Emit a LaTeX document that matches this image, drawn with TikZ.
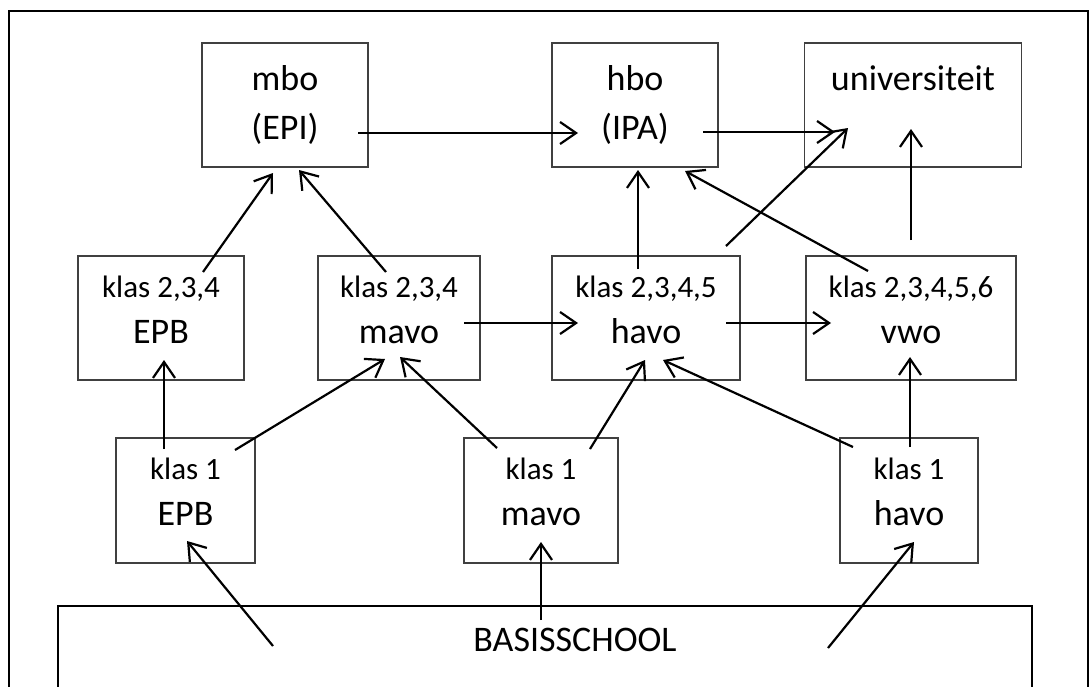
\documentclass[tikz,border=0pt]{standalone}
\usepackage{fontspec}
\setmainfont{Carlito}
\usetikzlibrary{arrows.meta,calc}
\newcommand{\klas}[1]{{\fontsize{31}{46}\selectfont klas #1}}
\newcommand{\klasstrut}{\rule[-17pt]{0pt}{17pt}}

\begin{document}
\begin{tikzpicture}[x=1pt, y=-1pt, >={Straight Barb[length=16pt,width=22pt]},
    font=\fontsize{36}{46}\selectfont,
    blok/.style={draw=black!75, line width=1.2pt, inner sep=0pt, align=center},
    top/.style={blok, minimum height=124pt},
    rij/.style={blok, minimum height=124pt},
    pijl/.style={->, line width=2.2pt}]
  \useasboundingbox (0,0) rectangle (1092,686);
  \clip (0,0) rectangle (1092,686);
  % kader
  \draw[line width=2.4pt] (9,700) -- (9,11) -- (1088,11) -- (1088,700);
  % vervolgopleidingen
  \node[top, minimum width=166pt] (mbo) at (285,105) {mbo\\[3pt](EPI)};
  \node[top, minimum width=166pt] (hbo) at (635,105) {hbo\\[3pt](IPA)};
  \node[top, minimum width=217pt] (uni) at (913,105) {universiteit\\[3pt]\phantom{(EPI)}};
  % klas 2 en hoger
  \node[rij, minimum width=166pt] (epb2) at (161,318) {\klas{2,3,4}\\EPB\klasstrut};
  \node[rij, minimum width=162pt] (mavo2) at (399,318) {\klas{2,3,4}\\mavo\klasstrut};
  \node[rij, minimum width=188pt] (havo2) at (646,318) {\klas{2,3,4,5}\\havo\klasstrut};
  \node[rij, minimum width=210pt] (vwo2) at (911,318) {\klas{2,3,4,5,6}\\vwo\klasstrut};
  % klas 1
  \node[blok, minimum width=139pt, minimum height=125pt] (epb1) at (185.5,500.5) {\klas{1}\\EPB\klasstrut};
  \node[blok, minimum width=154pt, minimum height=125pt] (mavo1) at (541,500.5) {\klas{1}\\mavo\klasstrut};
  \node[blok, minimum width=138pt, minimum height=125pt] (havo1) at (909,500.5) {\klas{1}\\havo\klasstrut};
  % basisschool
  \node[draw, line width=1.4pt, minimum width=974pt, minimum height=114pt] (basis) at (545,663) {};
  \node (basistekst) at (575,640) {BASISSCHOOL};

  % pijlen bovenste rij
  \draw[pijl] ($(mbo)+(73,28)$) -- ($(hbo)+(-57,28)$);
  \draw[pijl] ($(hbo)+(68,27)$) -- ($(uni)+(-78,27)$);
  \draw[pijl] ($(epb2)+(42,-46)$) -- ($(mbo)+(-12,68)$);
  \draw[pijl] ($(mavo2)+(-13,-46)$) -- ($(mbo)+(14,65)$);
  \draw[pijl] ($(havo2)+(-8,-49)$) -- ($(hbo)+(3,65)$);
  \draw[pijl] ($(havo2)+(80,-72)$) -- ($(uni)+(-65,23)$);
  \draw[pijl] ($(vwo2)+(-43,-47)$) -- ($(hbo)+(50,66)$);
  \draw[pijl] ($(vwo2)+(0,-78)$) -- ($(uni)+(-2,24)$);
  % doorstromen
  \draw[pijl] ($(mavo2)+(65,5)$) -- ($(havo2)+(-68,5)$);
  \draw[pijl] ($(havo2)+(80,5)$) -- ($(vwo2)+(-80,5)$);
  % vanuit klas 1
  \draw[pijl] ($(epb1)+(-21.5,-51.5)$) -- ($(epb2)+(3,42)$);
  \draw[pijl] ($(epb1)+(49.5,-50.5)$) -- ($(mavo2)+(-14,41)$);
  \draw[pijl] ($(mavo1)+(-44,-52.5)$) -- ($(mavo2)+(1,39)$);
  \draw[pijl] ($(mavo1)+(49,-51.5)$) -- ($(havo2)+(-1,42)$);
  \draw[pijl] ($(havo1)+(-56,-53.5)$) -- ($(havo2)+(17,42)$);
  \draw[pijl] ($(havo1)+(1,-53.5)$) -- ($(vwo2)+(-1,39)$);
  % vanuit de basisschool
  \draw[pijl] ($(basis)+(-272,-17)$) -- ($(epb1)+(1.5,40.5)$);
  \draw[pijl] ($(basis)+(-4,-43)$) -- ($(mavo1)+(0,41.5)$);
  \draw[pijl] ($(basis)+(283,-15)$) -- ($(havo1)+(5,41.5)$);
\end{tikzpicture}
\end{document}
